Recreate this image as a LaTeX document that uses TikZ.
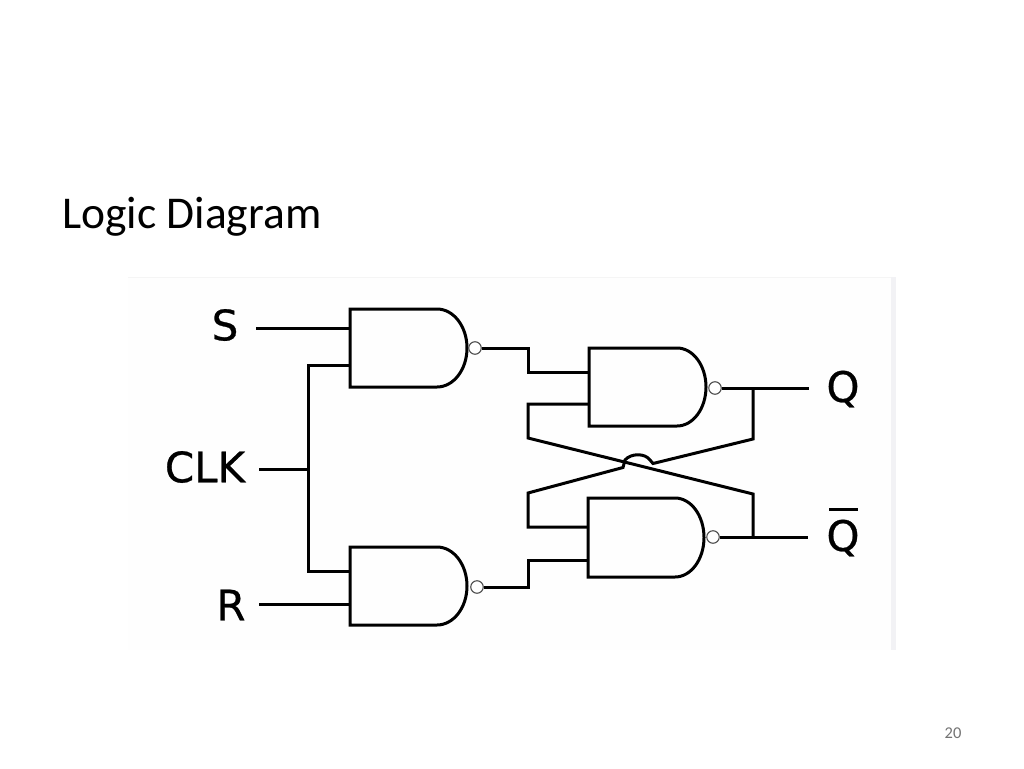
\documentclass[tikz,border=0pt]{standalone}
\usepackage{fontspec}
\setmainfont{Carlito}
\newfontfamily\labelfont[BoldFont={DejaVu Sans},BoldFeatures={FakeBold=0.6}]{DejaVu Sans}
\newcommand{\nandgate}[8]{% name, left, top, flat end, tip, bottom, input 1 y, input 2 y
  \pgfmathsetmacro{\midy}{(#3+#6)/2}
  \pgfmathsetmacro{\hh}{(#6-#3)/2*0.5523}
  \pgfmathsetmacro{\ww}{(#5-#4)*0.5523}
  \draw[wire] (#4,#3) -- (#2,#3) -- (#2,#6) -- (#4,#6)
    .. controls ({#4+\ww},#6) and (#5,{\midy+\hh}) .. (#5,\midy)
    .. controls (#5,{\midy-\hh}) and ({#4+\ww},#3) .. (#4,#3) -- cycle;
  \coordinate (#1a) at (#2,#7);
  \coordinate (#1b) at (#2,#8);
  \coordinate (#1o) at (#5,\midy);
}
\tikzset{
  wire/.style={line width=3pt,draw=black,line join=miter},
  bubble/.style={circle,draw=black!70,line width=1.1pt,fill=white,minimum size=12.5pt,inner sep=0pt},
  siglabel/.style={font=\labelfont\bfseries\fontsize{42}{42}\selectfont,text=black,inner sep=0pt,anchor=center},
  title/.style={font=\fontsize{45.5}{52}\selectfont,text=black,inner sep=0pt,anchor=base west},
  pagenum/.style={font=\fontsize{16.5}{18}\selectfont,text=black!55,inner sep=0pt}
}
\begin{document}
\begin{tikzpicture}[x=1pt,y=-1pt]
\useasboundingbox (0,0) rectangle (1024,768);
\fill[white] (0,0) rectangle (1024,768);
% pasted picture panel
\fill[black!0.5] (128,277) rectangle (891,650);
\draw[black!4,line width=0.8pt] (128,277) -- (891,277);
\fill[blue!18!black!5] (891,277) rectangle (896,650);
\node[title] (ttl) at (62,228) {Logic Diagram};
\node[pagenum] (pg) at (953,733) {20};
% gates
\nandgate{ga}{350}{309}{437}{467}{387}{328}{365}
\nandgate{gb}{350}{547}{437}{467}{625}{571}{604}
\nandgate{gc}{589}{348}{677}{706}{426}{372}{404}
\nandgate{gd}{588}{498}{675}{704}{577}{527}{560}
% labels
\node[siglabel] (S) at (225,325) {S};
\node[siglabel] (CLK) at (205,467) {CLK};
\node[siglabel] (R) at (231,605) {R};
\node[siglabel] (Q) at (843,389) {Q};
\node[siglabel] (Qn) at (843,538) {Q};
\draw[wire] (829,509) -- (858,509);
% bubbles
\node[bubble] (ba) at (475,348) {};
\node[bubble] (bb) at (477,587) {};
\node[bubble] (bc) at (715,388) {};
\node[bubble] (bd) at (713,537) {};
% free ends
\coordinate (sin) at (256,328);
\coordinate (clkin) at (259,469);
\coordinate (rin) at (259,604);
\coordinate (qout) at (809,388);
\coordinate (qnout) at (808,537);
\coordinate (clkj) at (308,469);
\coordinate (qj) at (753,388);
\coordinate (qnj) at (753,537);
% inputs
\draw[wire] (sin) -- (gaa);
\draw[wire] (rin) -- (gbb);
\draw[wire] (clkin) -- (clkj);
\draw[wire] (gab) -| (clkj) |- (gba);
% first stage to second
\draw[wire] (ba.east) -- (528,348) |- (gca);
\draw[wire] (bb.east) -- (528,587) |- (gdb);
% outputs
\draw[wire] (bc.east) -- (qout);
\draw[wire] (bd.east) -- (qnout);
% cross coupling
\draw[wire] (qj) -- (753,439) -- (653,463.5) -- (650,460)
  .. controls (645,453) and (631,453) .. (625,460)
  -- (623,467.5) -- (528,493) |- (gda);
\draw[wire] (qnj) -- (753,494) -- (528,438) |- (gcb);
\end{tikzpicture}
\end{document}
